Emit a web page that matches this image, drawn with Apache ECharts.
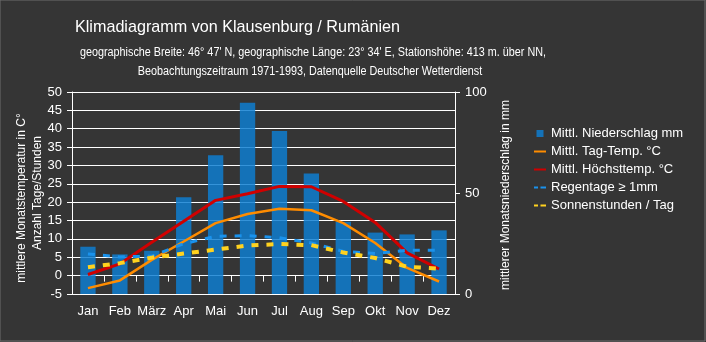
<!DOCTYPE html>
<html><head><meta charset="utf-8">
<script src="https://cdn.jsdelivr.net/npm/echarts@6/dist/echarts.min.js"></script>
<style>html,body{margin:0;padding:0;background:#353535;}#c{width:706px;height:342px;}</style>
</head><body><div id="c"></div>
<script>
const months = ['Jan','Feb','März','Apr','Mai','Jun','Jul','Aug','Sep','Okt','Nov','Dez'];
const precipitation = [23.4,19.6,21.4,47.9,68.7,94.7,80.7,59.7,35.8,30.4,29.5,31.5];
const tempMean = [-3.4,-1.3,4.3,9.3,14.3,16.8,18.2,17.8,14.3,8.9,2.1,-1.6];
const tempMax = [0.3,3.2,9.1,14.8,20.5,22.3,24.3,24.2,20.2,14.5,6.2,1.8];
const rainDays = [5.9,5.1,5.3,8.7,10.7,10.9,10.3,8.9,6.6,6.0,6.9,6.9];
const sunHours = [2.3,3.4,4.9,6.0,7.1,8.2,8.6,8.3,6.3,4.8,2.4,1.9];
const leftAxis = {min:-5, max:50, step:5};
const rightAxis = {min:0, max:100, step:50};
const names = ['Mittl. Niederschlag mm','Mittl. Tag-Temp. °C','Mittl. Höchsttemp. °C','Regentage ≥ 1mm','Sonnenstunden / Tag'];

const FF = '"Liberation Sans", Arial, sans-serif';
const chart = echarts.init(document.getElementById('c'), null, {renderer:'canvas'});
const axisTxt = {color:'#fff', fontSize:13, fontFamily:FF};
const solidIcon = 'path://M0,0M0,2.5h12v2h-12zM12,7';
const dashIcon = 'path://M0,0M0,2.5h4v2h-4zM6.5,2.5h5.5v2h-5.5zM12,7';
chart.setOption({
  backgroundColor:'#353535',
  animation:false,
  textStyle:{fontFamily:FF},
  grid:{left:72, right:251, top:92, bottom:48, containLabel:false},
  graphic:[
    {type:'rect', shape:{x:0,y:0,width:705,height:341}, style:{fill:'none', stroke:'#6e6e6e', lineWidth:1}, silent:true, z:-1},
    {type:'text', x:75, y:27, scaleX:0.95, style:{text:'Klimadiagramm von Klausenburg / Rumänien', fill:'#fff', font:'17px '+FF, verticalAlign:'middle'}},
    {type:'text', x:313, y:53, scaleX:0.9, style:{text:'geographische Breite: 46° 47\' N, geographische Länge: 23° 34\' E, Stationshöhe: 413 m. über NN,', fill:'#fff', font:'12px '+FF, align:'center', verticalAlign:'middle'}},
    {type:'text', x:310, y:72, scaleX:0.9, style:{text:'Beobachtungszeitraum 1971-1993, Datenquelle Deutscher Wetterdienst', fill:'#fff', font:'12px '+FF, align:'center', verticalAlign:'middle'}},
    {type:'text', x:22, y:198, rotation:Math.PI/2, style:{text:'mittlere Monatstemperatur in C°', fill:'#fff', font:'12px '+FF, align:'center', verticalAlign:'middle'}},
    {type:'text', x:38, y:193, rotation:Math.PI/2, style:{text:'Anzahl Tage/Stunden', fill:'#fff', font:'12px '+FF, align:'center', verticalAlign:'middle'}},
    {type:'text', x:506, y:195, rotation:Math.PI/2, style:{text:'mittlerer Monatsniederschlag in mm', fill:'#fff', font:'12px '+FF, align:'center', verticalAlign:'middle'}}
  ],
  legend:{
    orient:'vertical', left:534, top:127, padding:0, itemWidth:12, itemHeight:7, itemGap:5,
    textStyle:{color:'#fff', fontSize:13, fontFamily:FF, lineHeight:13},
    data:[
      {name:names[0], icon:'path://M0,0M2.5,0h7v7h-7zM12,7'},
      {name:names[1], icon:solidIcon},
      {name:names[2], icon:solidIcon},
      {name:names[3], icon:dashIcon},
      {name:names[4], icon:dashIcon}
    ]
  },
  xAxis:{
    type:'category', data:months, boundaryGap:true,
    axisLine:{lineStyle:{color:'#fff', width:1}},
    axisTick:{show:true, length:6, lineStyle:{color:'#fff'}},
    axisLabel:Object.assign({margin:11, interval:0}, axisTxt),
    splitLine:{show:false}
  },
  yAxis:[
    {type:'value', min:leftAxis.min, max:leftAxis.max, interval:leftAxis.step, position:'left',
     axisLine:{show:true, lineStyle:{color:'#fff'}},
     axisTick:{show:true, length:5, lineStyle:{color:'#fff'}},
     axisLabel:Object.assign({margin:10}, axisTxt),
     splitLine:{show:true, lineStyle:{color:'#fff', width:1}}},
    {type:'value', min:rightAxis.min, max:rightAxis.max, interval:rightAxis.step, position:'right',
     axisLine:{show:true, lineStyle:{color:'#fff'}},
     axisTick:{show:true, length:5, lineStyle:{color:'#fff'}},
     axisLabel:Object.assign({margin:10}, axisTxt),
     splitLine:{show:false}}
  ],
  series:[
    {name:names[0], type:'bar', yAxisIndex:1, data:precipitation, barWidth:'48%',
     itemStyle:{color:'rgba(14,126,210,0.84)'}, z:3},
    {name:names[1], type:'line', yAxisIndex:0, data:tempMean, symbol:'none', smooth:false,
     lineStyle:{color:'#ff8c00', width:2.5}, itemStyle:{color:'#ff8c00'}, z:4},
    {name:names[2], type:'line', yAxisIndex:0, data:tempMax, symbol:'none',
     lineStyle:{color:'#d00000', width:3}, itemStyle:{color:'#d00000'}, z:5},
    {name:names[3], type:'line', yAxisIndex:0, data:rainDays, symbol:'none',
     lineStyle:{color:'#1a92ec', width:3, type:[7,8]}, itemStyle:{color:'#1a92ec'}, z:6},
    {name:names[4], type:'line', yAxisIndex:0, data:sunHours, symbol:'none',
     lineStyle:{color:'#ffd21f', width:4, type:[7,8]}, itemStyle:{color:'#ffd21f'}, z:7}
  ]
});
</script></body></html>
